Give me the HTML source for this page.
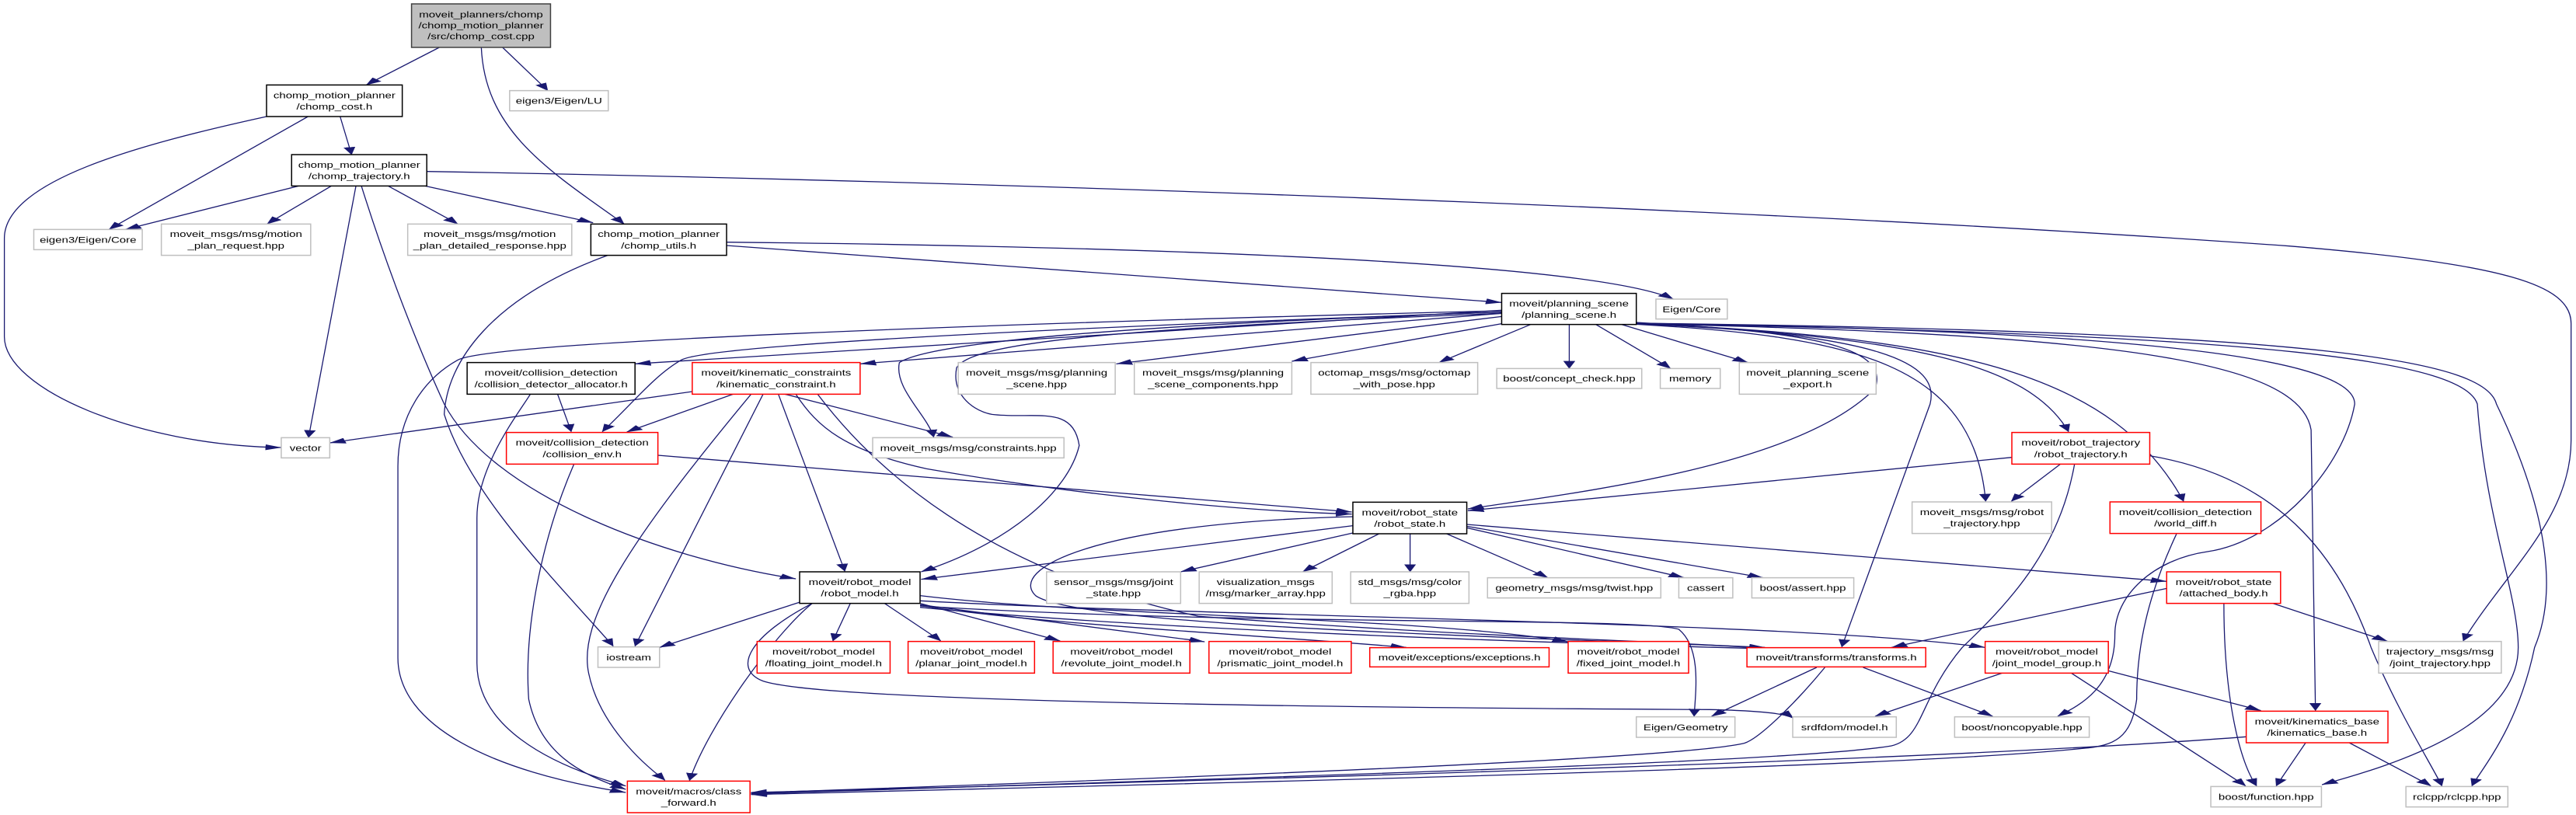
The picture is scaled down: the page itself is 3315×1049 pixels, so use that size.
<!DOCTYPE html>
<html><head><meta charset="utf-8"><style>
html,body{margin:0;padding:0;background:#fff;}
svg{display:block;}
text{font-family:"Liberation Sans",sans-serif;font-size:33px;fill:#000;text-anchor:middle;}
.e{fill:none;stroke:#191970;stroke-width:1.3;vector-effect:non-scaling-stroke;}
.g{fill:#fff;stroke:#bfbfbf;stroke-width:1.5;vector-effect:non-scaling-stroke;}
.r{fill:#fff;stroke:#ff0000;stroke-width:1.5;vector-effect:non-scaling-stroke;}
.k{fill:#fff;stroke:#000;stroke-width:1.5;vector-effect:non-scaling-stroke;}
.root{fill:#bfbfbf;stroke:#404040;stroke-width:1.5;vector-effect:non-scaling-stroke;}
</style></head><body>
<svg width="3315" height="1049" viewBox="0 0 4726 3147" preserveAspectRatio="none" xmlns="http://www.w3.org/2000/svg">
<defs><marker id="a" markerUnits="userSpaceOnUse" markerWidth="30" markerHeight="22" refX="29" refY="11" orient="auto"><path d="M0,0 L30,11 L0,22 z" fill="#191970"/></marker></defs>
<g marker-end="url(#a)">
<path class="e" d="M806,183 L672,328"/>
<path class="e" d="M922,183 L1005,350"/>
<path class="e" d="M883,183 C890,500 1000,650 1145,865"/>
<path class="e" d="M565,450 L200,886"/>
<path class="e" d="M489,450 C250,560 8,700 8,920 L8,1300 C8,1500 250,1720 516,1728"/>
<path class="e" d="M624,450 L645,597"/>
<path class="e" d="M548,718 L230,886"/>
<path class="e" d="M608,718 L490,865"/>
<path class="e" d="M712,718 L840,865"/>
<path class="e" d="M780,718 L1088,860"/>
<path class="e" d="M653,718 L566,1690"/>
<path class="e" d="M663,718 C720,1100 780,1400 815,1560 C900,1900 1200,2150 1460,2235"/>
<path class="e" d="M783,662 C1800,700 3200,800 4200,950 C4600,1020 4717,1100 4717,1250 L4717,1700 C4717,2000 4600,2200 4519,2475"/>
<path class="e" d="M1333,948 L2755,1168"/>
<path class="e" d="M1333,935 C2000,950 2900,1000 3070,1155"/>
<path class="e" d="M1115,986 C900,1150 820,1400 815,1600 C860,1900 1000,2200 1125,2495"/>
<path class="e" d="M2755,1200 C1800,1250 900,1320 840,1390 C780,1460 730,1600 730,1800 L730,2540 C730,2800 900,2980 1148,3060"/>
<path class="e" d="M2755,1198 L1165,1405"/>
<path class="e" d="M2755,1210 L1578,1405"/>
<path class="e" d="M2755,1205 C2000,1260 1300,1330 1250,1390 C1200,1450 1160,1560 1105,1667"/>
<path class="e" d="M973,1522 C950,1600 875,1800 875,2000 L875,2560 C875,2800 1000,2950 1148,3035"/>
<path class="e" d="M1023,1522 L1048,1667"/>
<path class="e" d="M1345,1522 L1150,1668"/>
<path class="e" d="M1270,1512 L605,1710"/>
<path class="e" d="M1400,1522 L1165,2495"/>
<path class="e" d="M1378,1522 C1150,2100 1060,2400 1080,2600 C1100,2800 1180,2950 1220,3013"/>
<path class="e" d="M1428,1522 L1550,2206"/>
<path class="e" d="M1440,1522 L1748,1688"/>
<path class="e" d="M1460,1522 C1500,1650 1550,1740 1700,1810 C2000,1920 2300,1975 2480,1985"/>
<path class="e" d="M1500,1522 C1600,1800 1800,2200 2200,2380 C2700,2460 3000,2470 3238,2503"/>
<path class="e" d="M2755,1205 C2000,1260 1700,1330 1650,1400 C1640,1500 1700,1600 1713,1688"/>
<path class="e" d="M2755,1210 C2000,1270 1780,1330 1755,1420 C1745,1530 1790,1590 1820,1600 C1900,1620 1968,1560 1980,1720 C1960,1900 1850,2100 1690,2208"/>
<path class="e" d="M2755,1222 L2048,1405"/>
<path class="e" d="M2755,1250 L2370,1395"/>
<path class="e" d="M2808,1253 L2640,1400"/>
<path class="e" d="M2879,1253 L2879,1423"/>
<path class="e" d="M2928,1253 L3065,1423"/>
<path class="e" d="M2975,1253 L3207,1400"/>
<path class="e" d="M1207,1758 L2480,1977"/>
<path class="e" d="M3691,1766 L2693,1972"/>
<path class="e" d="M3002,1245 C3300,1280 3470,1330 3440,1500 C3300,1800 2900,1900 2693,1965"/>
<path class="e" d="M3002,1250 C3500,1300 3720,1400 3795,1667"/>
<path class="e" d="M3002,1252 C3400,1300 3620,1400 3643,1936"/>
<path class="e" d="M3002,1250 C3600,1300 3880,1450 4006,1936"/>
<path class="e" d="M3002,1248 C3450,1290 3560,1400 3541,1560 L3379,2498"/>
<path class="e" d="M3002,1250 C3900,1290 4220,1400 4240,1660 L4248,2744"/>
<path class="e" d="M3002,1248 C4000,1280 4320,1400 4320,1560 C4300,1800 4180,2090 4050,2130 C3950,2160 3880,2300 3880,2450 C3880,2650 3820,2720 3775,2766"/>
<path class="e" d="M3002,1250 C4200,1290 4520,1400 4545,1560 C4560,2000 4620,2300 4620,2500 C4620,2800 4400,2950 4260,3030"/>
<path class="e" d="M3002,1248 C4300,1280 4560,1400 4580,1560 C4680,2000 4690,2300 4650,2500 C4620,2800 4560,2950 4535,3035"/>
<path class="e" d="M3348,2577 C3300,2700 3230,2850 3200,2870 C3100,2920 2500,2980 1378,3062"/>
<path class="e" d="M3806,1792 C3780,2100 3700,2300 3600,2500 C3520,2700 3530,2850 3470,2880 C3300,2940 2500,2990 1378,3065"/>
<path class="e" d="M3993,2062 C3940,2300 3920,2500 3920,2700 C3910,2850 3880,2880 3820,2890 C3500,2960 2500,3010 1378,3068"/>
<path class="e" d="M4121,2845 C3600,2930 2500,3000 1378,3060"/>
<path class="e" d="M1053,1792 C1000,2050 960,2400 970,2700 C990,2900 1060,2990 1148,3048"/>
<path class="e" d="M1490,2330 C1420,2450 1300,2800 1265,3014"/>
<path class="e" d="M1475,2320 L1210,2500"/>
<path class="e" d="M1560,2330 L1528,2475"/>
<path class="e" d="M1623,2330 L1726,2475"/>
<path class="e" d="M1688,2330 L1945,2475"/>
<path class="e" d="M1688,2335 L2210,2478"/>
<path class="e" d="M1688,2338 C1900,2410 2300,2450 2580,2500"/>
<path class="e" d="M1688,2300 C2000,2380 2600,2380 2877,2478"/>
<path class="e" d="M1688,2345 C2100,2430 2800,2480 3238,2505"/>
<path class="e" d="M1688,2320 C2200,2380 3300,2400 3642,2500"/>
<path class="e" d="M1688,2340 C2300,2420 3000,2380 3080,2430 C3120,2500 3112,2650 3108,2766"/>
<path class="e" d="M1490,2330 C1380,2450 1340,2580 1400,2630 C1500,2700 2200,2730 3136,2740 C3250,2745 3280,2760 3290,2773"/>
<path class="e" d="M2482,2030 L1690,2237"/>
<path class="e" d="M2482,2058 L2166,2208"/>
<path class="e" d="M2530,2061 L2390,2208"/>
<path class="e" d="M2587,2061 L2587,2208"/>
<path class="e" d="M2654,2061 L2840,2231"/>
<path class="e" d="M2691,2038 L3090,2231"/>
<path class="e" d="M2691,2032 L3235,2231"/>
<path class="e" d="M2691,2025 L3975,2245"/>
<path class="e" d="M2482,1995 C2000,2020 1850,2200 1900,2300 C1980,2420 2800,2460 3238,2500"/>
<path class="e" d="M3975,2272 L3470,2500"/>
<path class="e" d="M4170,2330 L4380,2476"/>
<path class="e" d="M4080,2330 C4080,2700 4110,2950 4140,3035"/>
<path class="e" d="M3780,1792 L3690,1936"/>
<path class="e" d="M3944,1760 C4200,1850 4300,2200 4350,2500 C4400,2750 4460,2950 4480,3035"/>
<path class="e" d="M3333,2577 L3140,2766"/>
<path class="e" d="M3418,2577 L3656,2766"/>
<path class="e" d="M3673,2599 L3440,2766"/>
<path class="e" d="M3800,2599 L4120,3035"/>
<path class="e" d="M3868,2590 L4148,2744"/>
<path class="e" d="M4230,2868 L4176,3035"/>
<path class="e" d="M4310,2868 L4460,3035"/>
</g>

<rect class="root" x="755" y="15" width="255" height="168"/>
<text transform="translate(882.5,67) scale(0.65,1)">moveit_planners/chomp</text>
<text transform="translate(882.5,110) scale(0.65,1)">/chomp_motion_planner</text>
<text transform="translate(882.5,152) scale(0.65,1)">/src/chomp_cost.cpp</text>

<rect class="k" x="489" y="328" width="249" height="122"/>
<text transform="translate(613.5,379) scale(0.65,1)">chomp_motion_planner</text>
<text transform="translate(613.5,423) scale(0.65,1)">/chomp_cost.h</text>

<rect class="g" x="935" y="350" width="181" height="78"/>
<text transform="translate(1025.5,401) scale(0.65,1)">eigen3/Eigen/LU</text>

<rect class="k" x="535" y="597" width="248" height="121"/>
<text transform="translate(659,647.5) scale(0.65,1)">chomp_motion_planner</text>
<text transform="translate(659,691.5) scale(0.65,1)">/chomp_trajectory.h</text>

<rect class="g" x="62" y="886" width="199" height="78"/>
<text transform="translate(161.5,937) scale(0.65,1)">eigen3/Eigen/Core</text>

<rect class="g" x="296" y="865" width="274" height="121"/>
<text transform="translate(433,915.5) scale(0.65,1)">moveit_msgs/msg/motion</text>
<text transform="translate(433,959.5) scale(0.65,1)">_plan_request.hpp</text>

<rect class="g" x="748" y="865" width="301" height="121"/>
<text transform="translate(898.5,915.5) scale(0.65,1)">moveit_msgs/msg/motion</text>
<text transform="translate(898.5,959.5) scale(0.65,1)">_plan_detailed_response.hpp</text>

<rect class="k" x="1084" y="865" width="249" height="121"/>
<text transform="translate(1208.5,915.5) scale(0.65,1)">chomp_motion_planner</text>
<text transform="translate(1208.5,959.5) scale(0.65,1)">/chomp_utils.h</text>

<rect class="k" x="857" y="1400" width="308" height="122"/>
<text transform="translate(1011,1451) scale(0.65,1)">moveit/collision_detection</text>
<text transform="translate(1011,1495) scale(0.65,1)">/collision_detector_allocator.h</text>

<rect class="r" x="1270" y="1400" width="308" height="122"/>
<text transform="translate(1424,1451) scale(0.65,1)">moveit/kinematic_constraints</text>
<text transform="translate(1424,1495) scale(0.65,1)">/kinematic_constraint.h</text>

<rect class="k" x="2755" y="1133" width="247" height="120"/>
<text transform="translate(2878.5,1183) scale(0.65,1)">moveit/planning_scene</text>
<text transform="translate(2878.5,1227) scale(0.65,1)">/planning_scene.h</text>

<rect class="g" x="3038" y="1155" width="131" height="77"/>
<text transform="translate(3103.5,1205.5) scale(0.65,1)">Eigen/Core</text>

<rect class="g" x="1758" y="1400" width="288" height="122"/>
<text transform="translate(1902,1451) scale(0.65,1)">moveit_msgs/msg/planning</text>
<text transform="translate(1902,1495) scale(0.65,1)">_scene.hpp</text>

<rect class="g" x="2081" y="1400" width="289" height="122"/>
<text transform="translate(2225.5,1451) scale(0.65,1)">moveit_msgs/msg/planning</text>
<text transform="translate(2225.5,1495) scale(0.65,1)">_scene_components.hpp</text>

<rect class="g" x="2405" y="1400" width="306" height="122"/>
<text transform="translate(2558,1451) scale(0.65,1)">octomap_msgs/msg/octomap</text>
<text transform="translate(2558,1495) scale(0.65,1)">_with_pose.hpp</text>

<rect class="g" x="2746" y="1423" width="266" height="77"/>
<text transform="translate(2879,1473.5) scale(0.65,1)">boost/concept_check.hpp</text>

<rect class="g" x="3046" y="1423" width="110" height="77"/>
<text transform="translate(3101,1473.5) scale(0.65,1)">memory</text>

<rect class="g" x="3191" y="1400" width="251" height="122"/>
<text transform="translate(3316.5,1451) scale(0.65,1)">moveit_planning_scene</text>
<text transform="translate(3316.5,1495) scale(0.65,1)">_export.h</text>

<rect class="g" x="516" y="1690" width="89" height="78"/>
<text transform="translate(560.5,1741) scale(0.65,1)">vector</text>

<rect class="r" x="929" y="1670" width="278" height="122"/>
<text transform="translate(1068,1721) scale(0.65,1)">moveit/collision_detection</text>
<text transform="translate(1068,1765) scale(0.65,1)">/collision_env.h</text>

<rect class="g" x="1601" y="1690" width="351" height="78"/>
<text transform="translate(1776.5,1741) scale(0.65,1)">moveit_msgs/msg/constraints.hpp</text>

<rect class="r" x="3691" y="1670" width="253" height="122"/>
<text transform="translate(3817.5,1721) scale(0.65,1)">moveit/robot_trajectory</text>
<text transform="translate(3817.5,1765) scale(0.65,1)">/robot_trajectory.h</text>

<rect class="k" x="2482" y="1939" width="209" height="122"/>
<text transform="translate(2586.5,1990) scale(0.65,1)">moveit/robot_state</text>
<text transform="translate(2586.5,2034) scale(0.65,1)">/robot_state.h</text>

<rect class="g" x="3508" y="1938" width="256" height="122"/>
<text transform="translate(3636,1989) scale(0.65,1)">moveit_msgs/msg/robot</text>
<text transform="translate(3636,2033) scale(0.65,1)">_trajectory.hpp</text>

<rect class="r" x="3871" y="1938" width="277" height="122"/>
<text transform="translate(4009.5,1989) scale(0.65,1)">moveit/collision_detection</text>
<text transform="translate(4009.5,2033) scale(0.65,1)">/world_diff.h</text>

<rect class="k" x="1467" y="2208" width="221" height="122"/>
<text transform="translate(1577.5,2259) scale(0.65,1)">moveit/robot_model</text>
<text transform="translate(1577.5,2303) scale(0.65,1)">/robot_model.h</text>

<rect class="g" x="1920" y="2208" width="246" height="122"/>
<text transform="translate(2043,2259) scale(0.65,1)">sensor_msgs/msg/joint</text>
<text transform="translate(2043,2303) scale(0.65,1)">_state.hpp</text>

<rect class="g" x="2200" y="2208" width="244" height="122"/>
<text transform="translate(2322,2259) scale(0.65,1)">visualization_msgs</text>
<text transform="translate(2322,2303) scale(0.65,1)">/msg/marker_array.hpp</text>

<rect class="g" x="2478" y="2208" width="217" height="122"/>
<text transform="translate(2586.5,2259) scale(0.65,1)">std_msgs/msg/color</text>
<text transform="translate(2586.5,2303) scale(0.65,1)">_rgba.hpp</text>

<rect class="g" x="2729" y="2231" width="318" height="78"/>
<text transform="translate(2888,2282) scale(0.65,1)">geometry_msgs/msg/twist.hpp</text>

<rect class="g" x="3080" y="2231" width="99" height="78"/>
<text transform="translate(3129.5,2282) scale(0.65,1)">cassert</text>

<rect class="g" x="3214" y="2231" width="187" height="78"/>
<text transform="translate(3307.5,2282) scale(0.65,1)">boost/assert.hpp</text>

<rect class="r" x="3975" y="2208" width="209" height="122"/>
<text transform="translate(4079.5,2259) scale(0.65,1)">moveit/robot_state</text>
<text transform="translate(4079.5,2303) scale(0.65,1)">/attached_body.h</text>

<rect class="g" x="1097" y="2498" width="113" height="79"/>
<text transform="translate(1153.5,2549.5) scale(0.65,1)">iostream</text>

<rect class="r" x="1389" y="2477" width="244" height="122"/>
<text transform="translate(1511,2528) scale(0.65,1)">moveit/robot_model</text>
<text transform="translate(1511,2572) scale(0.65,1)">/floating_joint_model.h</text>

<rect class="r" x="1666" y="2477" width="232" height="122"/>
<text transform="translate(1782,2528) scale(0.65,1)">moveit/robot_model</text>
<text transform="translate(1782,2572) scale(0.65,1)">/planar_joint_model.h</text>

<rect class="r" x="1932" y="2477" width="251" height="122"/>
<text transform="translate(2057.5,2528) scale(0.65,1)">moveit/robot_model</text>
<text transform="translate(2057.5,2572) scale(0.65,1)">/revolute_joint_model.h</text>

<rect class="r" x="2218" y="2477" width="261" height="122"/>
<text transform="translate(2348.5,2528) scale(0.65,1)">moveit/robot_model</text>
<text transform="translate(2348.5,2572) scale(0.65,1)">/prismatic_joint_model.h</text>

<rect class="r" x="2513" y="2501" width="329" height="74"/>
<text transform="translate(2677.5,2550) scale(0.65,1)">moveit/exceptions/exceptions.h</text>

<rect class="r" x="2877" y="2477" width="221" height="122"/>
<text transform="translate(2987.5,2528) scale(0.65,1)">moveit/robot_model</text>
<text transform="translate(2987.5,2572) scale(0.65,1)">/fixed_joint_model.h</text>

<rect class="r" x="3205" y="2501" width="328" height="74"/>
<text transform="translate(3369,2550) scale(0.65,1)">moveit/transforms/transforms.h</text>

<rect class="r" x="3642" y="2477" width="226" height="122"/>
<text transform="translate(3755,2528) scale(0.65,1)">moveit/robot_model</text>
<text transform="translate(3755,2572) scale(0.65,1)">/joint_model_group.h</text>

<rect class="g" x="4364" y="2477" width="225" height="122"/>
<text transform="translate(4476.5,2528) scale(0.65,1)">trajectory_msgs/msg</text>
<text transform="translate(4476.5,2572) scale(0.65,1)">/joint_trajectory.hpp</text>

<rect class="g" x="3002" y="2768" width="181" height="79"/>
<text transform="translate(3092.5,2819.5) scale(0.65,1)">Eigen/Geometry</text>

<rect class="g" x="3289" y="2768" width="190" height="79"/>
<text transform="translate(3384,2819.5) scale(0.65,1)">srdfdom/model.h</text>

<rect class="g" x="3586" y="2768" width="247" height="79"/>
<text transform="translate(3709.5,2819.5) scale(0.65,1)">boost/noncopyable.hpp</text>

<rect class="r" x="4121" y="2746" width="260" height="122"/>
<text transform="translate(4251,2797) scale(0.65,1)">moveit/kinematics_base</text>
<text transform="translate(4251,2841) scale(0.65,1)">/kinematics_base.h</text>

<rect class="r" x="1151" y="3016" width="225" height="122"/>
<text transform="translate(1263.5,3067) scale(0.65,1)">moveit/macros/class</text>
<text transform="translate(1263.5,3111) scale(0.65,1)">_forward.h</text>

<rect class="g" x="4056" y="3037" width="203" height="79"/>
<text transform="translate(4157.5,3088.5) scale(0.65,1)">boost/function.hpp</text>

<rect class="g" x="4414" y="3037" width="187" height="79"/>
<text transform="translate(4507.5,3088.5) scale(0.65,1)">rclcpp/rclcpp.hpp</text>
</svg>
</body></html>
